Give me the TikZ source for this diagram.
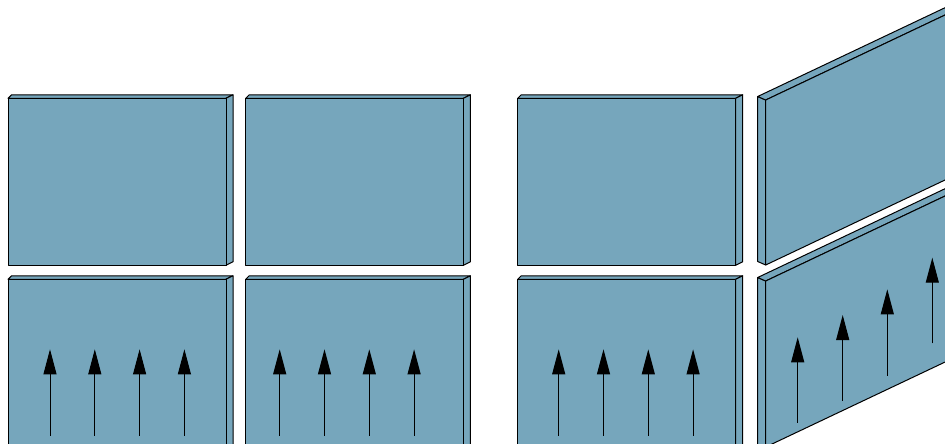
\documentclass[tikz,border=0pt]{standalone}
\usetikzlibrary{arrows.meta}
\definecolor{panel}{RGB}{118,166,188}
\tikzset{
  face/.style={fill=panel,draw=black,line width=0.75pt,line join=round},
  fieldarrow/.style={line width=0.75pt,-{Triangle[length=18.75pt,width=9.75pt]}}
}
\newcommand\panelbox[4]{%
  \draw[face] (#1,#2) -- (#1+3.5,#2-3.5) -- (#3+7,#2-3.5) -- (#3,#2) -- cycle;
  \draw[face] (#3,#2) -- (#3+7,#2-3.5) -- (#3+7,#4-3.5) -- (#3,#4) -- cycle;
  \draw[face] (#1,#2) rectangle (#3,#4);
}
\newcommand\upfour[2]{% x of first arrow, spacing
  \foreach \k in {0,1,2,3}{
    \draw[fieldarrow] (#1+\k*#2,435.7) -- (#1+\k*#2,349.3);
  }
}
\begin{document}
\begin{tikzpicture}[x=0.75pt,y=-0.75pt]
\useasboundingbox (0,0) rectangle (945,443);
\clip (0,0) rectangle (945,443);
% top row
\panelbox{8}{98.3}{226}{265.3}
\panelbox{245.7}{98.3}{463.3}{265.3}
\panelbox{517.7}{98.3}{735.7}{265.3}
% bottom row
\panelbox{8}{279.3}{226}{470}
\panelbox{245.7}{279.3}{463.3}{470}
\panelbox{517.7}{279.3}{735.7}{470}
% arrows in straight panels
\upfour{50}{44.8}
\upfour{279.7}{44.8}
\upfour{558.7}{44.8}
% sheared upper panel
\draw[face] (757.7,96.5) -- (765.7,100) -- (765.7,265) -- (757.7,261.5) -- cycle;
\draw[face] (757.7,96.5) -- (765.7,100) -- (1000,-11.06) -- (992,-14.56) -- cycle;
\draw[face] (765.7,100) -- (1000,-11.06) -- (1000,153.94) -- (765.7,265) -- cycle;
% sheared lower panel
\draw[face] (757.7,277.5) -- (765.7,281) -- (765.7,470) -- (757.7,466.5) -- cycle;
\draw[face] (757.7,277.5) -- (765.7,281) -- (1000,169.94) -- (992,166.44) -- cycle;
\draw[face] (765.7,281) -- (1000,169.94) -- (1000,336) -- (765.7,447) -- cycle;
% arrows in sheared panel
\draw[fieldarrow] (797.7,422.7) -- (797.7,337.3);
\draw[fieldarrow] (842.7,401) -- (842.7,315);
\draw[fieldarrow] (887.3,375.7) -- (887.3,289.3);
\draw[fieldarrow] (932.3,343.3) -- (932.3,257.7);
\end{tikzpicture}
\end{document}
